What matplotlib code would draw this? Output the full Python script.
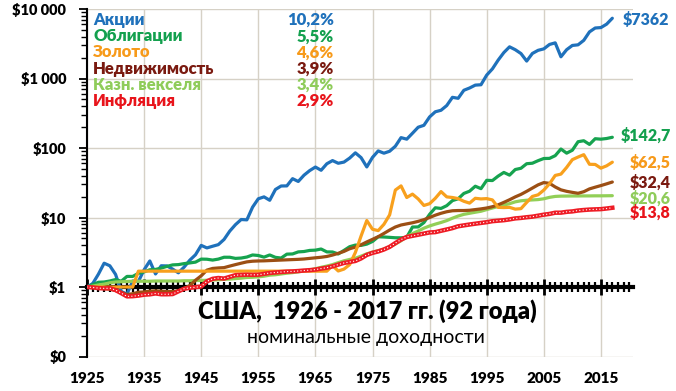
import matplotlib
matplotlib.use('Agg')
import matplotlib.pyplot as plt
from matplotlib.ticker import MultipleLocator, LogLocator, NullFormatter

plt.rcParams['font.family'] = ['Lato', 'DejaVu Sans']

years = list(range(1925, 2018))

stocks = [1.00, 1.12, 1.53, 2.20, 2.02, 1.52, 0.86, 0.79, 1.22, 1.20,
          1.77, 2.37, 1.54, 2.02, 2.01, 1.81, 1.60, 1.93, 2.43, 2.91,
          3.97, 3.65, 3.86, 4.07, 4.83, 6.37, 7.89, 9.35, 9.25, 14.1,
          18.6, 19.8, 17.7, 25.3, 28.4, 28.5, 36.2, 33.0, 40.6, 47.3,
          53.2, 47.8, 59.3, 65.9, 60.3, 62.7, 71.6, 85.2, 72.7, 53.4,
          73.3, 90.8, 84.2, 89.8, 106, 141, 134, 163, 199, 212,
          280, 332, 349, 408, 536, 519, 677, 730, 803, 813,
          1119, 1376, 1835, 2360, 2856, 2596, 2287, 1782, 2293, 2543,
          2668, 3089, 3259, 2053, 2597, 2989, 3052, 3540, 4687, 5329,
          5404, 6052, 7362]

bonds = [1.00, 1.08, 1.17, 1.18, 1.22, 1.28, 1.21, 1.42, 1.42, 1.57,
         1.65, 1.77, 1.79, 1.87, 1.98, 2.08, 2.10, 2.17, 2.22, 2.28,
         2.52, 2.51, 2.44, 2.52, 2.68, 2.68, 2.58, 2.61, 2.70, 2.89,
         2.84, 2.69, 2.89, 2.67, 2.61, 2.97, 2.99, 3.20, 3.24, 3.36,
         3.39, 3.52, 3.20, 3.19, 2.99, 3.36, 3.80, 4.01, 3.97, 4.14,
         4.52, 5.28, 5.24, 5.18, 5.11, 5.10, 5.20, 7.29, 7.32, 8.44,
         11.1, 13.8, 13.5, 14.8, 17.5, 18.6, 22.2, 23.9, 28.2, 26.0,
         34.3, 34.0, 39.4, 44.5, 40.7, 49.0, 51.1, 59.4, 60.4, 65.7,
         70.6, 70.9, 77.6, 96.7, 84.3, 92.9, 123.1, 127.2, 112.6, 136.0,
         134.0, 137.0, 142.7]

gold = [1.00, 1.00, 1.00, 1.00, 1.00, 1.00, 1.00, 1.00, 1.00, 1.69,
        1.69, 1.69, 1.69, 1.69, 1.69, 1.69, 1.69, 1.69, 1.69, 1.69,
        1.69, 1.69, 1.69, 1.69, 1.69, 1.69, 1.69, 1.69, 1.69, 1.69,
        1.69, 1.69, 1.69, 1.69, 1.69, 1.69, 1.69, 1.69, 1.69, 1.69,
        1.69, 1.69, 1.69, 2.03, 1.70, 1.81, 2.10, 3.14, 5.42, 9.05,
        6.77, 6.48, 7.98, 10.9, 24.8, 28.5, 19.4, 21.7, 18.5, 14.9,
        15.8, 18.9, 23.6, 19.8, 19.4, 18.7, 17.1, 16.1, 18.9, 18.5,
        18.7, 17.9, 14.0, 13.9, 14.0, 13.2, 13.4, 16.5, 20.1, 21.2,
        24.8, 30.6, 40.3, 42.1, 52.6, 68.0, 74.1, 80.2, 58.3, 58.0,
        51.3, 55.4, 62.5]

realty = [1.00, 0.99, 0.97, 0.95, 0.93, 0.89, 0.84, 0.78, 0.80, 0.84,
          0.85, 0.87, 0.88, 0.87, 0.86, 0.86, 0.88, 0.95, 1.05, 1.25,
          1.45, 1.75, 1.85, 1.88, 1.90, 2.00, 2.10, 2.20, 2.30, 2.35,
          2.37, 2.38, 2.40, 2.42, 2.44, 2.46, 2.48, 2.50, 2.53, 2.58,
          2.63, 2.68, 2.75, 2.88, 3.05, 3.25, 3.55, 3.75, 4.05, 4.45,
          4.85, 5.30, 5.90, 6.60, 7.30, 7.80, 8.10, 8.40, 8.80, 9.30,
          10.0, 10.8, 11.5, 12.1, 12.5, 12.6, 12.6, 12.7, 13.0, 13.3,
          13.7, 14.3, 15.2, 16.5, 18.0, 19.8, 21.5, 23.8, 26.5, 29.5,
          31.8, 31.0, 27.5, 25.0, 23.8, 23.0, 22.3, 23.5, 25.8, 27.3,
          28.8, 30.5, 32.4]

tbills = [1.00, 1.03, 1.07, 1.10, 1.15, 1.18, 1.19, 1.20, 1.21, 1.21,
          1.21, 1.21, 1.22, 1.22, 1.22, 1.22, 1.22, 1.23, 1.23, 1.24,
          1.24, 1.25, 1.26, 1.27, 1.29, 1.30, 1.32, 1.34, 1.37, 1.38,
          1.40, 1.43, 1.48, 1.50, 1.54, 1.58, 1.61, 1.65, 1.70, 1.76,
          1.83, 1.92, 2.00, 2.10, 2.24, 2.38, 2.49, 2.59, 2.78, 3.00,
          3.18, 3.34, 3.51, 3.78, 4.15, 4.63, 5.30, 5.87, 6.39, 7.02,
          7.56, 8.03, 8.48, 9.02, 9.77, 10.5, 11.1, 11.5, 11.9, 12.3,
          13.0, 13.7, 14.4, 15.1, 15.8, 16.8, 17.4, 17.7, 17.9, 18.1,
          18.6, 19.5, 20.1, 20.3, 20.35, 20.4, 20.4, 20.45, 20.45, 20.5,
          20.5, 20.55, 20.6]

inflation = [1.000, 0.985, 0.964, 0.955, 0.961, 0.903, 0.816, 0.733, 0.737, 0.752,
             0.775, 0.784, 0.808, 0.786, 0.786, 0.791, 0.866, 0.944, 0.974, 0.994,
             1.016, 1.205, 1.311, 1.347, 1.322, 1.399, 1.481, 1.494, 1.503, 1.495,
             1.501, 1.545, 1.591, 1.618, 1.642, 1.666, 1.677, 1.698, 1.726, 1.747,
             1.781, 1.840, 1.896, 1.981, 2.099, 2.218, 2.292, 2.370, 2.579, 2.894,
             3.097, 3.246, 3.466, 3.778, 4.281, 4.812, 5.242, 5.445, 5.652, 5.871,
             6.093, 6.160, 6.437, 6.724, 7.035, 7.475, 7.701, 7.929, 8.143, 8.355,
             8.564, 8.848, 9.001, 9.143, 9.389, 9.707, 9.857, 10.09, 10.28, 10.62,
             10.98, 11.26, 11.72, 11.73, 12.06, 12.24, 12.60, 12.82, 13.00, 13.10,
             13.19, 13.47, 13.80]

names = ['Акции', 'Облигации', 'Золото', 'Недвижимость', 'Казн. векселя', 'Инфляция']
rates = ['10,2%', '5,5%', '4,6%', '3,9%', '3,4%', '2,9%']
end_labels = ['$7362', '$142,7', '$62,5', '$32,4', '$20,6', '$13,8']

ytick_vals = [0.1, 1, 10, 100, 1000, 10000]
ytick_text = ['$0', '$1', '$10', '$100', '$1 000', '$10 000']
xtick_vals = list(range(1925, 2016, 10))

line_colors = ['#1f71bb', '#16a34f', '#f8a01d', '#9c4f14', '#92cf57', '#ee1c25']
text_colors = ['#1f71bb', '#13a04e', '#f79a1a', '#7a1a10', '#8fcc5a', '#e8141b']

# positions of the right-hand labels (year, value)
end_pos = [(2018.9, 7000), (2018.4, 152), (2020.1, 62.3),
           (2020.1, 31.5), (2020.1, 19.0), (2020.1, 11.6)]

grid_c = '#d6d1c6'
heavy = 'heavy'

fig = plt.figure(figsize=(6.76, 3.91), dpi=100)
ax = fig.add_axes([87 / 676, 34.5 / 391, 546 / 676, 347.5 / 391])

ax.set_yscale('log')
ax.set_ylim(0.1, 10000)
ax.set_xlim(1925, 1925 + 546 / 5.71)

series = [stocks, bonds, gold, realty, tbills]
zs = [3, 3, 5, 4, 3.5]
for s, c, z in zip(series, line_colors[:5], zs):
    ax.plot(years, s, color=c, lw=2.3, zorder=z, solid_capstyle='round')
ax.plot(years, inflation, color=line_colors[5], lw=3.2, zorder=6)
ax.plot(years, inflation, color='white', lw=1.0, linestyle=(0, (0.01, 2.4)),
        dash_capstyle='round', zorder=7)

# y axis
ax.set_yticks(ytick_vals)
ax.set_yticklabels(ytick_text, fontweight=heavy, fontsize=10.5)
ax.yaxis.set_minor_locator(LogLocator(base=10, subs=range(2, 10)))
ax.yaxis.set_minor_formatter(NullFormatter())
ax.tick_params(axis='y', which='major', length=6, width=1.3, pad=9)
ax.tick_params(axis='y', which='minor', length=4, width=1)

# x axis crosses at $1
ax.spines['top'].set_visible(False)
ax.spines['right'].set_visible(False)
ax.spines['left'].set_linewidth(1.5)
ax.spines['bottom'].set_position(('data', 1))
ax.spines['bottom'].set_linewidth(3)
ax.spines['bottom'].set_zorder(2)
ax.set_xticks(xtick_vals)
ax.xaxis.set_minor_locator(MultipleLocator(1))
ax.tick_params(axis='x', which='major', direction='inout', length=11, width=2,
               labelbottom=False)
ax.tick_params(axis='x', which='minor', direction='inout', length=7, width=1.6)

ax.grid(True, which='major', color=grid_c, lw=1, zorder=0)
ax.set_axisbelow(True)

sec = ax.secondary_xaxis('bottom')
sec.set_xticks(xtick_vals)
sec.set_xticklabels([str(v) for v in xtick_vals], fontweight=heavy, fontsize=11)
sec.tick_params(length=0, pad=11)
sec.spines['bottom'].set_visible(False)

# legend block
y0 = (356.5 - 20) / 347.5
dy = 16.2 / 347.5
for i, (n, r, c) in enumerate(zip(names, rates, text_colors)):
    ax.text(0.011, y0 - i * dy, n, transform=ax.transAxes, color=c,
            fontweight=heavy, fontsize=12, va='center', ha='left')
    ax.text(0.452, y0 - i * dy, r, transform=ax.transAxes, color=c,
            fontweight=heavy, fontsize=12, va='center', ha='right')

for (xp, yp), s, c in zip(end_pos, end_labels, text_colors):
    ax.text(xp, yp, s, color=c, fontweight=heavy, fontsize=11.5,
            va='center', ha='left', clip_on=False)

fig.text(367 / 676, 1 - 311 / 391, 'США,  1926 - 2017 гг. (92 года)',
         ha='center', va='center', fontsize=17, fontweight=heavy)
fig.text(366 / 676, 1 - 338 / 391, 'номинальные доходности',
         ha='center', va='center', fontsize=14)

fig.savefig('out.png', dpi=100)
